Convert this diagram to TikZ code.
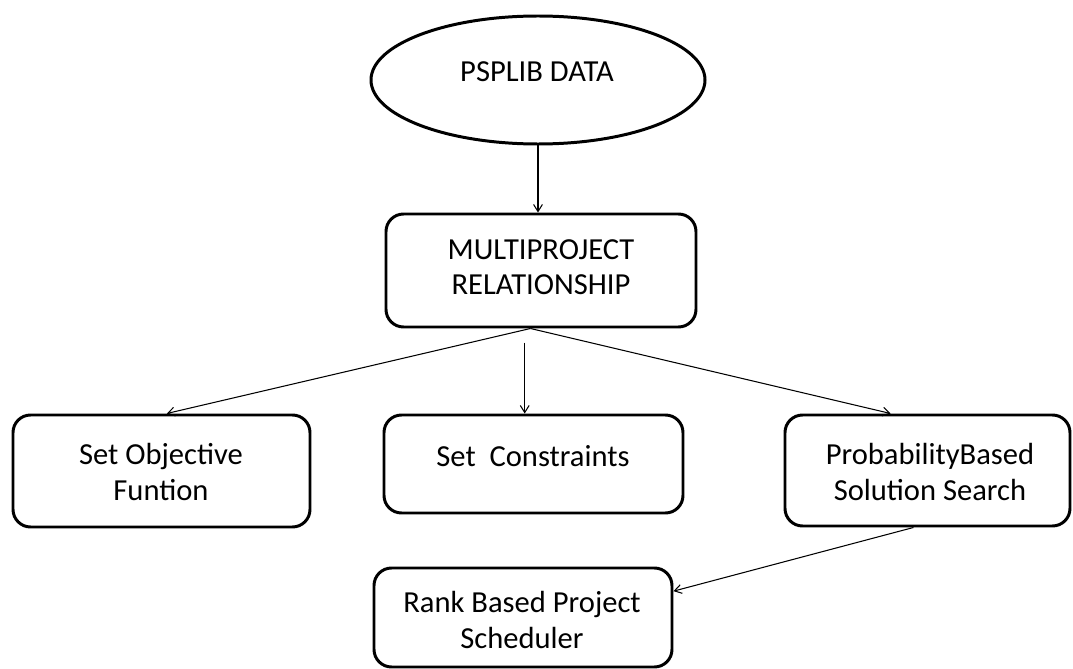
\documentclass[tikz,border=0pt]{standalone}
\usepackage{fontspec}
\setmainfont{Carlito}
\usetikzlibrary{shapes.geometric,arrows.meta}
\tikzset{
  box/.style={draw, line width=1.7pt, rounded corners=10pt, inner sep=0pt},
  lbl/.style={align=center, font=\fontsize{17.4}{20.2}\selectfont, inner sep=0pt}
}
\begin{document}
\begin{tikzpicture}[x=0.02cm, y=-0.02cm, >={Straight Barb[length=4pt,width=5pt]}, line width=0.6pt]
\useasboundingbox (0,0) rectangle (1073,669);

\node[draw, ellipse, line width=1.7pt, minimum width=334*0.02cm, minimum height=128*0.02cm](data) at (538,80){};
\node[lbl](dataText) at (537,72){PSPLIB DATA};

\node[box, minimum width=310*0.02cm, minimum height=113*0.02cm](rel) at (541,270.5){};
\node[lbl](relText) at (541,267){MULTIPROJECT\\RELATIONSHIP};

\node[box, minimum width=297*0.02cm, minimum height=112*0.02cm](obj) at (161.5,471){};
\node[lbl](objText) at (161,472){Set Objective\\Funtion};

\node[box, minimum width=299*0.02cm, minimum height=98*0.02cm](con) at (533.5,464){};
\node[lbl](conText) at (533,456){Set\ \ Constraints};

\node[box, minimum width=285*0.02cm, minimum height=111*0.02cm](prob) at (927.5,470.5){};
\node[lbl](probText) at (930,472){ProbabilityBased\\Solution Search};

\node[box, minimum width=298*0.02cm, minimum height=99*0.02cm](rank) at (523,617.5){};
\node[lbl](rankText) at (522,620){Rank Based Project\\Scheduler};

\draw[->](data.south) -- (data.south |- rel.north);
\draw[->]([xshift=-6pt]rel.south) -- ([xshift=3pt]obj.north);
\draw[->]([xshift=-5pt,yshift=-8pt]con.north |- rel.south) -- ([xshift=-5pt]con.north);
\draw[->]([xshift=-6pt]rel.south) -- ([xshift=-21pt]prob.north);
\draw[->]([xshift=-8pt]prob.south) -- ([yshift=15pt]rank.east);
\end{tikzpicture}
\end{document}
